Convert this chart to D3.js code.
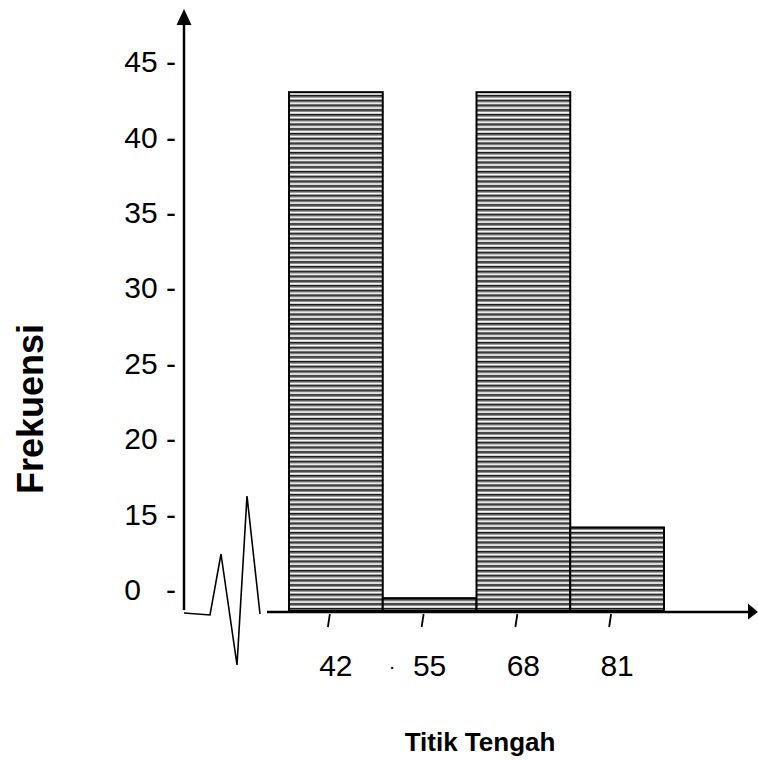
<!DOCTYPE html>
<html>
<head>
<meta charset="utf-8">
<script src="https://cdn.jsdelivr.net/npm/d3@7"></script>
<style>
    body { margin: 0; background: #fff; }
    svg { display: block; font-family: "Liberation Sans", Arial, sans-serif; }
</style>
</head>
<body>
<div id="chart"></div>
<script>
// Chart values.
const categories = ["42", "55", "68", "81"];
const frequencies = [43, 2, 43, 13];
const tickLabels = ["0", "15", "20", "25", "30", "35", "40", "45"];
const yTitle = "Frekuensi";
const xTitle = "Titik Tengah";

const width = 758;
const height = 761;

// Position of the axes.
const axisX = 184;
const baseline = 611;

const svg = d3.select("#chart").append("svg")
    .attr("width", width)
    .attr("height", height);

// Tick labels sit in evenly spaced slots (the axis is broken below 15).
const ySlot = d3.scalePoint()
    .domain(tickLabels)
    .range([590, 62]);

// Value scale used for the bars: squeezed between 0 and 15, regular above.
const y = d3.scaleLinear()
    .domain([0, +tickLabels[1], +tickLabels[tickLabels.length - 1]])
    .range([baseline, ySlot(tickLabels[1]), ySlot(tickLabels[tickLabels.length - 1])]);

const x = d3.scaleBand()
    .domain(categories)
    .range([289, 664])
    .padding(0);

// Horizontal stripe fill of the bars.
const pattern = svg.append("defs").append("pattern")
    .attr("id", "stripes")
    .attr("patternUnits", "userSpaceOnUse")
    .attr("width", 8)
    .attr("height", 4.75);

pattern.append("rect")
    .attr("width", 8)
    .attr("height", 4.75)
    .attr("fill", "#fff");

pattern.append("rect")
    .attr("width", 8)
    .attr("height", 1.7)
    .attr("fill", "#1a1a1a");

pattern.append("rect")
    .attr("y", 1.7)
    .attr("width", 8)
    .attr("height", 1.1)
    .attr("fill", "#8c8c8c");

pattern.append("rect")
    .attr("y", 3.9)
    .attr("width", 8)
    .attr("height", 0.85)
    .attr("fill", "#c8c8c8");

// Append the x-axis line and its arrow head.
svg.append("line")
    .attr("x1", axisX + 83)
    .attr("x2", width - 9)
    .attr("y1", baseline + 1)
    .attr("y2", baseline + 1)
    .attr("stroke", "#000")
    .attr("stroke-width", 2.5);

svg.append("path")
    .attr("d", "M" + (width - 10) + "," + (baseline - 7.5) + "L" + width + "," + (baseline + 1) + "L" + (width - 10) + "," + (baseline + 8.5) + "Z")
    .attr("fill", "#000");

// Zigzag break symbol at the start of the x-axis.
const zig = [[0, 2], [26, 4], [37, -57], [53, 54], [63, -115], [76, 3]];
svg.append("path")
    .attr("d", d3.line()(zig.map(p => [axisX + p[0], baseline + p[1]])))
    .attr("fill", "none")
    .attr("stroke", "#000")
    .attr("stroke-width", 1.6)
    .attr("stroke-linejoin", "miter");

// Append the bars.
svg.append("g")
    .selectAll("rect")
    .data(frequencies)
    .join("rect")
    .attr("x", (d, i) => x(categories[i]))
    .attr("y", d => y(d))
    .attr("width", x.bandwidth())
    .attr("height", d => baseline - y(d))
    .attr("fill", "url(#stripes)")
    .attr("stroke", "#000")
    .attr("stroke-width", 2);

// Append the y-axis line and its arrow head.
svg.append("line")
    .attr("x1", axisX)
    .attr("x2", axisX)
    .attr("y1", baseline - 1)
    .attr("y2", 24)
    .attr("stroke", "#000")
    .attr("stroke-width", 2.5);

svg.append("path")
    .attr("d", "M" + (axisX - 7.5) + ",25L" + axisX + ",9L" + (axisX + 7.5) + ",25Z")
    .attr("fill", "#000");

// Y tick labels, written with a dash like the original.
const yAxis = d3.axisLeft(ySlot)
    .tickSize(0)
    .tickPadding(8)
    .tickFormat(d => d === "0" ? "0   -" : d + " -");

const yAxisG = svg.append("g")
    .attr("transform", "translate(" + axisX + ",0)")
    .call(yAxis);

yAxisG.select(".domain").remove();
yAxisG.attr("font-family", null).attr("font-size", null);
yAxisG.selectAll("text")
    .attr("font-size", 30)
    .attr("fill", "#000")
    .style("white-space", "pre");

// X tick labels.
const xAxis = d3.axisBottom(x)
    .tickSize(0)
    .tickPadding(44);

const xAxisG = svg.append("g")
    .attr("transform", "translate(0," + baseline + ")")
    .call(xAxis);

xAxisG.select(".domain").remove();
xAxisG.attr("font-family", null).attr("font-size", null);
xAxisG.selectAll("text")
    .attr("font-size", 30)
    .attr("fill", "#000");

// Short slanted tick marks under the axis.
svg.append("g")
    .selectAll("line")
    .data(categories)
    .join("line")
    .attr("x1", d => x(d) + x.bandwidth() / 2 - 6)
    .attr("x2", d => x(d) + x.bandwidth() / 2 - 8)
    .attr("y1", baseline + 3)
    .attr("y2", baseline + 16)
    .attr("stroke", "#000")
    .attr("stroke-width", 1.8);

// Stray dot left of the 55 label.
svg.append("text")
    .attr("x", x("55") + x.bandwidth() / 2 - 41)
    .attr("y", baseline + 62)
    .attr("font-size", 20)
    .text("·");

// Axis titles.
svg.append("text")
    .attr("transform", "translate(43,409) rotate(-90)")
    .attr("text-anchor", "middle")
    .attr("font-size", 36)
    .attr("font-weight", "bold")
    .text(yTitle);

svg.append("text")
    .attr("x", 480)
    .attr("y", 751)
    .attr("text-anchor", "middle")
    .attr("font-size", 26)
    .attr("font-weight", "bold")
    .text(xTitle);
</script>
</body>
</html>
